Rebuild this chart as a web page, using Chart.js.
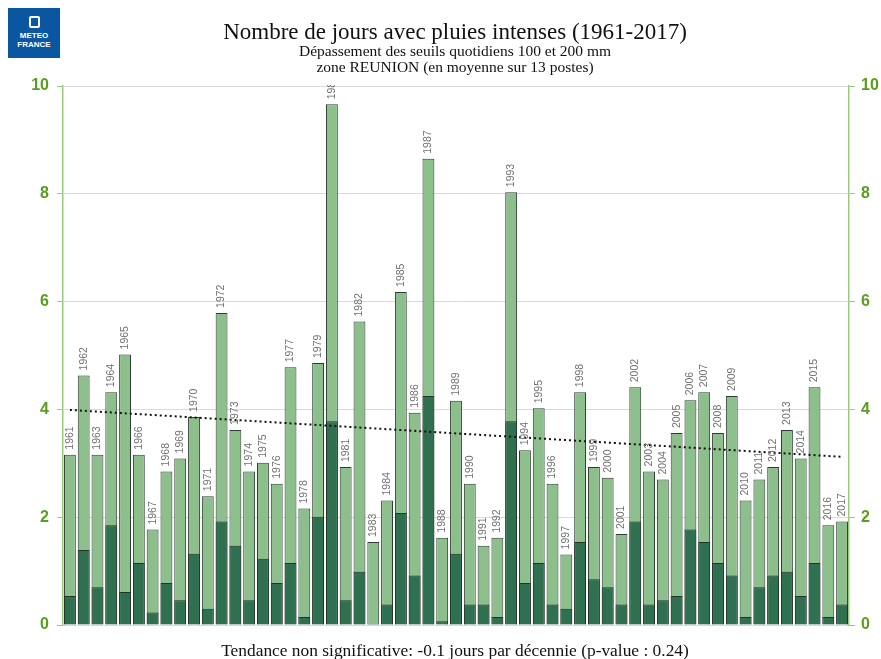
<!DOCTYPE html>
<html>
<head>
<meta charset="utf-8">
<script src="https://cdn.jsdelivr.net/npm/chart.js@4"></script>
<style>
  html, body { margin:0; padding:0; background:#fff; }
  #wrap { position:relative; width:881px; height:659px; overflow:hidden; }
  #c { position:absolute; left:0; top:0; }
  .t { position:absolute; left:0; width:910px; text-align:center; font-family:"Liberation Serif","DejaVu Serif",serif; color:#111; white-space:nowrap; }
  #logo { position:absolute; left:8px; top:8px; width:52px; height:50px; background:#0b56a0; color:#fff; font-family:"Liberation Sans",Arial,sans-serif; font-weight:bold; font-size:8px; line-height:9px; text-align:center; }
  #logo .ic { display:block; margin:8px auto 3px auto; width:11px; height:12px; border:2px solid #fff; border-radius:2px; box-sizing:border-box; }
</style>
</head>
<body>
<div id="wrap">
  <canvas id="c" width="881" height="659"></canvas>
  <div id="logo"><span class="ic"></span>METEO<br>FRANCE</div>
  <div class="t" style="top:19px;font-size:23px;">Nombre de jours avec pluies intenses (1961-2017)</div>
  <div class="t" style="top:42px;font-size:15.5px;">Dépassement des seuils quotidiens 100 et 200 mm</div>
  <div class="t" style="top:58px;font-size:15.5px;">zone REUNION (en moyenne sur 13 postes)</div>
  <div class="t" style="top:640px;font-size:17.4px;">Tendance non significative: -0.1 jours par décennie (p-value : 0.24)</div>
</div>
<script>
const years = ["1961","1962","1963","1964","1965","1966","1967","1968","1969","1970",
  "1971","1972","1973","1974","1975","1976","1977","1978","1979","1980",
  "1981","1982","1983","1984","1985","1986","1987","1988","1989","1990",
  "1991","1992","1993","1994","1995","1996","1997","1998","1999","2000",
  "2001","2002","2003","2004","2005","2006","2007","2008","2009","2010",
  "2011","2012","2013","2014","2015","2016","2017"];
const days100 = [3.16,4.63,3.16,4.32,5.02,3.16,1.77,2.85,3.09,3.86,
  2.39,5.79,3.62,2.85,3.01,2.62,4.78,2.16,4.86,9.66,
  2.93,5.63,1.54,2.31,6.18,3.94,8.65,1.62,4.16,2.62,
  1.47,1.62,8.03,3.24,4.02,2.62,1.31,4.32,2.93,2.73,
  1.69,4.41,2.85,2.70,3.56,4.17,4.32,3.56,4.25,2.31,
  2.70,2.93,3.62,3.09,4.41,1.85,1.92];
const days200 = [0.54,1.39,0.70,1.85,0.61,1.15,0.23,0.78,0.46,1.32,
  0.30,1.92,1.47,0.46,1.23,0.78,1.15,0.15,2.01,3.78,
  0.46,0.99,0.02,0.38,2.08,0.92,4.25,0.07,1.32,0.38,
  0.38,0.15,3.78,0.78,1.15,0.38,0.30,1.54,0.85,0.70,
  0.38,1.92,0.38,0.46,0.54,1.77,1.54,1.15,0.92,0.15,
  0.70,0.92,0.99,0.54,1.15,0.15,0.38];
const trendStart = 3.99, trendEnd = 3.12;
const yTicks = [0,2,4,6,8,10];

const trendData = years.map((y,i) => i===0 ? trendStart : (i===years.length-1 ? trendEnd : null));

const greenTick = '#5b9d1f';
const axisGreen = '#9dc97e';

const yearLabels = {
  id:'yearLabels',
  afterDatasetsDraw(chart){
    const ctx = chart.ctx;
    const meta = chart.getDatasetMeta(1);
    const ca = chart.chartArea;
    ctx.save();
    ctx.beginPath();
    ctx.rect(ca.left, ca.top-1, ca.right-ca.left, ca.bottom-ca.top);
    ctx.clip();
    ctx.font = '10.5px "Liberation Sans", Arial, sans-serif';
    ctx.fillStyle = '#707070';
    ctx.textAlign = 'left';
    ctx.textBaseline = 'middle';
    meta.data.forEach((bar,i) => {
      ctx.save();
      ctx.translate(bar.x, bar.y - 5);
      ctx.rotate(-Math.PI/2);
      ctx.fillText(years[i], 0, 0);
      ctx.restore();
    });
    ctx.restore();
  }
};

new Chart(document.getElementById('c'), {
  data: {
    labels: years,
    datasets: [
      { type:'line', label:'Tendance', data: trendData, spanGaps:true, borderColor:'#111', borderWidth:2,
        borderDash:[2,3], pointRadius:0, fill:false, order:0, yAxisID:'y' },
      { type:'bar', label:'>= 100 mm', data: days100, backgroundColor:'#8cbf8c', borderColor:'#2b3b2e',
        borderWidth:1, order:2, categoryPercentage:1, barPercentage:0.86, yAxisID:'y' },
      { type:'bar', label:'>= 200 mm', data: days200, backgroundColor:'#2f7050', borderColor:'#243328',
        borderWidth:1, order:1, categoryPercentage:1, barPercentage:0.86, yAxisID:'y' }
    ]
  },
  options: {
    responsive:false,
    animation:false,
    devicePixelRatio:1,
    layout:{ padding:{ top:86, bottom:34, left:0, right:0 } },
    plugins:{ legend:{display:false}, tooltip:{enabled:false}, title:{display:false} },
    scales:{
      x:{ stacked:true, display:false, offset:true, grid:{display:false} },
      y:{ position:'left', stacked:false, min:0, max:10,
        afterFit(s){ s.width = 63; },
        afterBuildTicks(s){ s.ticks = yTicks.map(v=>({value:v})); },
        grid:{ color:'#dadada', tickColor:axisGreen, tickLength:6, drawOnChartArea:true, lineWidth:1 },
        border:{ color:axisGreen, width:1.5 },
        ticks:{ color:greenTick, font:{family:'"Liberation Sans", Arial, sans-serif', size:16, weight:'bold'}, padding:8 }
      },
      y2:{ position:'right', min:0, max:10,
        afterFit(s){ s.width = 32; },
        afterBuildTicks(s){ s.ticks = yTicks.map(v=>({value:v})); },
        grid:{ drawOnChartArea:false, tickColor:axisGreen, tickLength:6 },
        border:{ color:axisGreen, width:1.5 },
        ticks:{ color:greenTick, font:{family:'"Liberation Sans", Arial, sans-serif', size:16, weight:'bold'}, padding:6 }
      }
    }
  },
  plugins:[yearLabels]
});
</script>
</body>
</html>
